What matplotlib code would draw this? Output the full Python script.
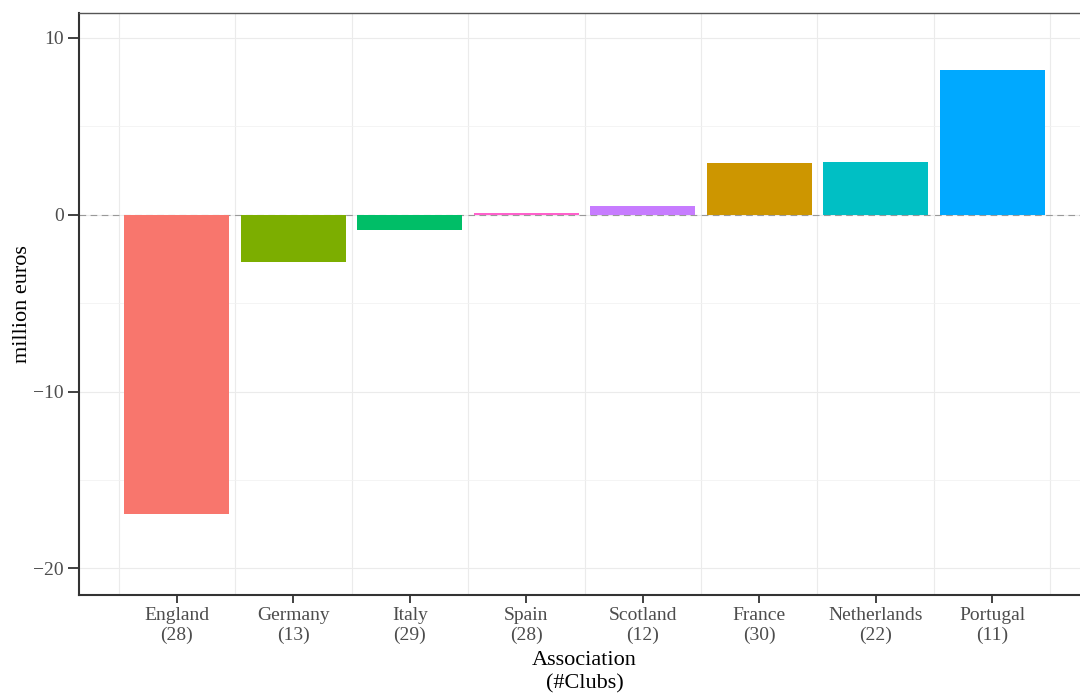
import matplotlib
matplotlib.use("Agg")
import matplotlib.pyplot as plt
import numpy as np

# data
associations = ["England", "Germany", "Italy", "Spain", "Scotland", "France", "Netherlands", "Portugal"]
n_clubs = [28, 13, 29, 28, 12, 30, 22, 11]
values = [-16.9, -2.65, -0.85, 0.12, 0.5, 2.9, 2.95, 8.2]
bar_colors = ["#F8766D", "#7CAE00", "#00BE67", "#FF61CC", "#C77CFF", "#CD9600", "#00BFC4", "#00A9FF"]

plt.rcParams["font.family"] = ["Liberation Serif", "DejaVu Serif"]

fig = plt.figure(figsize=(10.8, 6.95), dpi=100)
ax = fig.add_axes([79 / 1080, 1 - 595 / 695, (1090 - 79) / 1080, 582 / 695])

x = np.arange(len(associations))
labels = [f"{a}\n({n})" for a, n in zip(associations, n_clubs)]

# grid (ggplot-ish)
for gx in np.arange(-0.5, len(associations), 1.0):
    ax.axvline(gx, color="#EBEBEB", lw=0.8, zorder=0)
for gy in [-20, -10, 0, 10]:
    ax.axhline(gy, color="#EBEBEB", lw=0.8, zorder=0)
for gy in [-15, -5, 5]:
    ax.axhline(gy, color="#F2F2F2", lw=0.6, zorder=0)

ax.axhline(0, color="#999999", lw=0.8, ls=(0, (6, 4)), zorder=1)
ax.bar(x, values, width=0.9, color=bar_colors, zorder=2)

ax.set_xlim(-0.84, 7.84)
ax.set_ylim(-21.5, 11.4)
ax.set_xticks(x)
ax.set_xticklabels(labels, fontsize=14, color="#4D4D4D", linespacing=1.2)
ax.set_yticks([-20, -10, 0, 10])
ax.set_yticklabels(["\u221220", "\u221210", "0", "10"], fontsize=14, color="#4D4D4D")
ax.tick_params(axis="x", length=6, width=1.3, color="#333333", pad=3)
ax.tick_params(axis="y", length=8, width=1.3, color="#333333", pad=3)

for side in ["left", "bottom"]:
    ax.spines[side].set_linewidth(1.5)
    ax.spines[side].set_color("#333333")
for side in ["top", "right"]:
    ax.spines[side].set_linewidth(1.0)
    ax.spines[side].set_color("#555555")

ax.set_xlabel("Association\n(#Clubs)", fontsize=16, labelpad=5, linespacing=1.25)
ax.set_ylabel("million euros", fontsize=16, labelpad=1)

fig.savefig("out.png", dpi=100)
plt.close(fig)
